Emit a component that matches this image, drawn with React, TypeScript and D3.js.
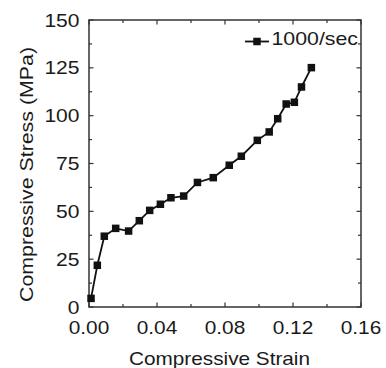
import React from "react";
import * as d3 from "d3";

const strain = [0.0012, 0.0049, 0.009, 0.0157, 0.0233, 0.0296, 0.0357, 0.042, 0.0482, 0.0557, 0.0638, 0.0731, 0.0825, 0.0896, 0.099, 0.106, 0.111, 0.116, 0.1208, 0.125, 0.1308];
const stress = [4.5, 21.8, 37, 41.1, 39.7, 45.1, 50.5, 53.7, 57.1, 58.0, 65.1, 67.6, 74.1, 78.8, 87.1, 91.5, 98.4, 106.1, 107.0, 115, 125.1];
const xTicks = [0, 0.04, 0.08, 0.12, 0.16];
const xMinor = [0.02, 0.06, 0.1, 0.14];
const yTicks = [0, 25, 50, 75, 100, 125, 150];
const yMinor = [12.5, 37.5, 62.5, 87.5, 112.5, 137.5];
const seriesName = "1000/sec";

function labelLen(s: string) {
  let w = 0;
  for (const c of s) w += c === "." ? 5.5 : 11.7;
  return w;
}

export default function App() {
  const W = 386, H = 368;
  const L = 89, R = 361, T = 20, B = 307;
  const x = d3.scaleLinear().domain([0, 0.16]).range([L, R]);
  const y = d3.scaleLinear().domain([0, 150]).range([B, T]);
  const line = d3.line<number>().x((_, i) => x(strain[i])).y((d) => y(d));
  const font = "Liberation Sans, Arial, sans-serif";
  const ax = "#333";
  const tc = "#1a1a1a";
  const ms = 7.5;
  const fs = 18.5;
  return (
    <svg width={W} height={H} style={{ position: "absolute", left: 0, top: 0 }} fontFamily={font}>
      <rect x={0} y={0} width={W} height={H} fill="#fff" />
      {xTicks.map((t) => (
        <g key={"xt" + t}>
          <line x1={x(t)} x2={x(t)} y1={B} y2={B - 4.5} stroke={ax} strokeWidth={1.2} />
          <line x1={x(t)} x2={x(t)} y1={T} y2={T + 4.5} stroke={ax} strokeWidth={1.2} />
          <text x={x(t)} y={333.5} textAnchor="middle" fontSize={fs} fill={tc}
            textLength={labelLen(t.toFixed(2))} lengthAdjust="spacingAndGlyphs">{t.toFixed(2)}</text>
        </g>
      ))}
      {xMinor.map((t) => (
        <g key={"xm" + t}>
          <line x1={x(t)} x2={x(t)} y1={B} y2={B - 3} stroke={ax} strokeWidth={1.2} />
          <line x1={x(t)} x2={x(t)} y1={T} y2={T + 3} stroke={ax} strokeWidth={1.2} />
        </g>
      ))}
      {yTicks.map((t) => (
        <g key={"yt" + t}>
          <line x1={L} x2={L + 4.5} y1={y(t)} y2={y(t)} stroke={ax} strokeWidth={1.2} />
          <line x1={R} x2={R - 4.5} y1={y(t)} y2={y(t)} stroke={ax} strokeWidth={1.2} />
          <text x={79.5} y={y(t) + 6.6} textAnchor="end" fontSize={fs} fill={tc}
            textLength={labelLen(String(t))} lengthAdjust="spacingAndGlyphs">{t}</text>
        </g>
      ))}
      {yMinor.map((t) => (
        <g key={"ym" + t}>
          <line x1={L} x2={L + 3} y1={y(t)} y2={y(t)} stroke={ax} strokeWidth={1.2} />
          <line x1={R} x2={R - 3} y1={y(t)} y2={y(t)} stroke={ax} strokeWidth={1.2} />
        </g>
      ))}
      <rect x={L} y={T} width={R - L} height={B - T} fill="none" stroke={ax} strokeWidth={1.5} />
      <path d={line(stress) || ""} fill="none" stroke="#111" strokeWidth={1.8} />
      {stress.map((v, i) => (
        <rect key={i} x={x(strain[i]) - ms / 2} y={y(v) - ms / 2} width={ms} height={ms} fill="#111" />
      ))}
      <line x1={245} x2={269} y1={41.5} y2={41.5} stroke="#111" strokeWidth={1.8} />
      <rect x={257 - ms / 2} y={41.5 - ms / 2} width={ms} height={ms} fill="#111" />
      <text x={271.5} y={44.5} fontSize={fs} fill={tc} textLength={86.5} lengthAdjust="spacingAndGlyphs">{seriesName}</text>
      <text x={129} y={365} fontSize={19} fill={tc} textLength={181} lengthAdjust="spacingAndGlyphs">Compressive Strain</text>
      <text transform="translate(33,302) rotate(-90)" fontSize={18.5} fill={tc} textLength={255} lengthAdjust="spacingAndGlyphs">Compressive Stress (MPa)</text>
    </svg>
  );
}
